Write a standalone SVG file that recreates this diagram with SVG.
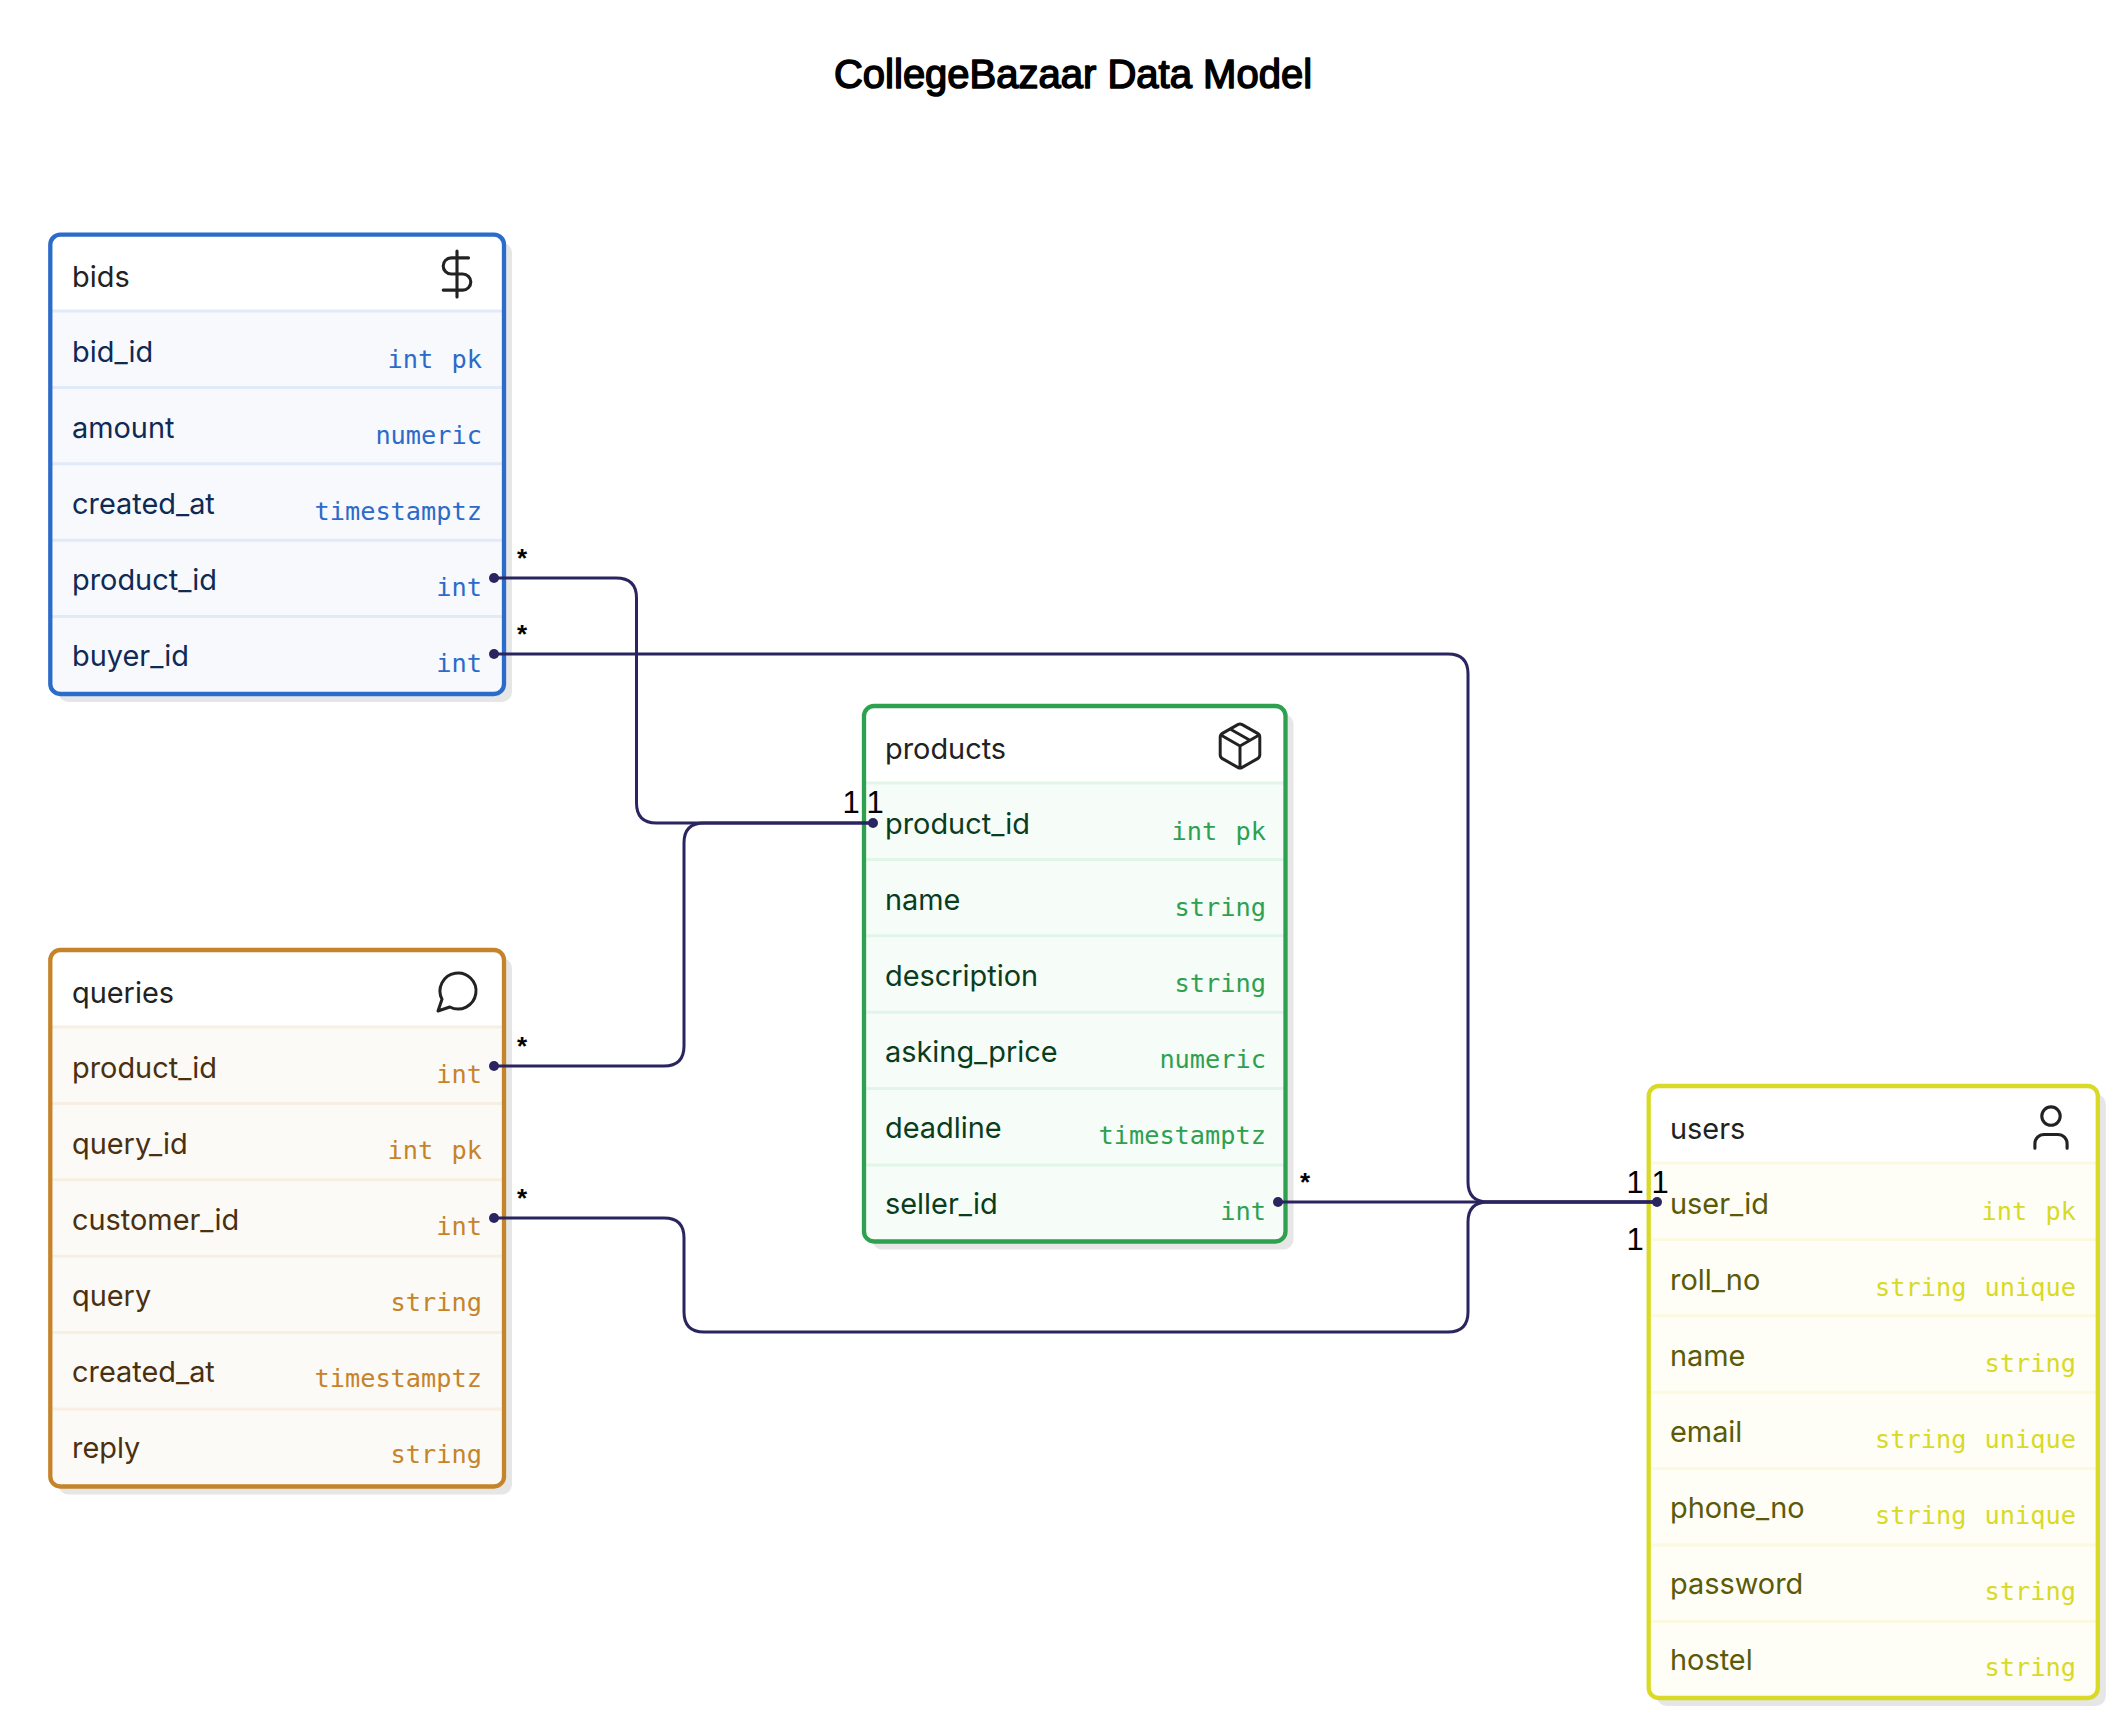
<svg xmlns="http://www.w3.org/2000/svg" width="2118" height="1718" viewBox="0 0 2118 1718">
<style>
text{font-family:"Liberation Sans",sans-serif}
.name{font-family:Inter,"Liberation Sans",sans-serif;font-size:28.9px}
.type{font-family:"DejaVu Sans Mono",monospace;font-size:25.3px;text-anchor:end;word-spacing:3px}
.box{stroke-width:4.3;fill:none}
.sh{fill:#e6e6e6}
.sep{stroke-width:3}
.ic{fill:none;stroke:#222;stroke-width:1.35;stroke-linecap:round;stroke-linejoin:round}
.c{fill:none;stroke:#2a2560;stroke-width:3}
.d{fill:#2a2560}
.one{font-size:31px;fill:#000;text-anchor:middle}
.st{font-size:26px;font-weight:700;fill:#000;text-anchor:middle}
.bids .box{stroke:#2b6bc9}.bids .bg{fill:#f8f9fd}.bids .sep{stroke:#e1eaf8}.bids .name{fill:#0e2a55}.bids .type{fill:#2b6bc9}
.products .box{stroke:#2da150}.products .bg{fill:#f6fcf8}.products .sep{stroke:#e2f5e9}.products .name{fill:#0a3d1e}.products .type{fill:#2da150}
.queries .box{stroke:#c6842a}.queries .bg{fill:#fcfaf6}.queries .sep{stroke:#f8efe2}.queries .name{fill:#4a3010}.queries .type{fill:#c6842a}
.users .box{stroke:#d8da26}.users .bg{fill:#fefef6}.users .sep{stroke:#fafae0}.users .name{fill:#5a5a08}.users .type{fill:#d8da26}
.name.head{fill:#222}
</style>
<text x="1073" y="88" font-size="40" text-anchor="middle" fill="#000" stroke="#000" stroke-width="1.5" stroke-linejoin="round">CollegeBazaar Data Model</text>

<g id="bids" class="bids">
<rect class="sh" x="58.300" y="242.700" width="453.700" height="459.300" rx="10"/>
<rect x="50.300" y="234.700" width="453.700" height="459.300" rx="10" fill="#fff"/>
<path class="bg" d="M50.300 311H504V684a10 10 0 0 1-10 10H60.300a10 10 0 0 1-10-10Z"/>
<path class="sep" d="M52 311H502M52 387.400H502M52 463.800H502M52 540.200H502M52 616.600H502"/>
<rect class="box" x="50.300" y="234.700" width="453.700" height="459.300" rx="10"/>
<text class="name head" x="72" y="287">bids</text>
<g class="ic" transform="translate(429.400,246.400) scale(2.300)"><path d="M12 2V22M17 5H9.500a3.500 3.500 0 0 0 0 7h5a3.500 3.500 0 0 1 0 7H6"/></g>
<text class="name" x="72" y="362">bid_id</text><text class="type" x="482" y="368">int pk</text>
<text class="name" x="72" y="438">amount</text><text class="type" x="482" y="444">numeric</text>
<text class="name" x="72" y="514">created_at</text><text class="type" x="482" y="520">timestamptz</text>
<text class="name" x="72" y="590">product_id</text><text class="type" x="482" y="596">int</text>
<text class="name" x="72" y="666">buyer_id</text><text class="type" x="482" y="672">int</text>
</g>

<g id="products" class="products">
<rect class="sh" x="872" y="714" width="421.500" height="535.500" rx="10"/>
<rect x="864" y="706" width="421.500" height="535.500" rx="10" fill="#fff"/>
<path class="bg" d="M864 783H1285.500V1231.500a10 10 0 0 1-10 10H874a10 10 0 0 1-10-10Z"/>
<path class="sep" d="M866 783H1284M866 859.400H1284M866 935.800H1284M866 1012.200H1284M866 1088.600H1284M866 1165H1284"/>
<rect class="box" x="864" y="706" width="421.500" height="535.500" rx="10"/>
<text class="name head" x="885" y="759">products</text>
<g class="ic" transform="translate(1213.600,719.600) scale(2.200)"><path d="M11 21.730a2 2 0 0 0 2 0l7-4a2 2 0 0 0 1-1.730V8a2 2 0 0 0-1-1.730l-7-4a2 2 0 0 0-2 0l-7 4A2 2 0 0 0 3 8v8a2 2 0 0 0 1 1.730zM12 22V12M3.300 7l8.700 5 8.700-5M7.500 4.270l9 5.150"/></g>
<text class="name" x="885" y="834">product_id</text><text class="type" x="1266" y="839.500">int pk</text>
<text class="name" x="885" y="910">name</text><text class="type" x="1266" y="915.500">string</text>
<text class="name" x="885" y="986">description</text><text class="type" x="1266" y="991.500">string</text>
<text class="name" x="885" y="1062">asking_price</text><text class="type" x="1266" y="1067.500">numeric</text>
<text class="name" x="885" y="1138">deadline</text><text class="type" x="1266" y="1143.500">timestamptz</text>
<text class="name" x="885" y="1214">seller_id</text><text class="type" x="1266" y="1219.500">int</text>
</g>

<g id="queries" class="queries">
<rect class="sh" x="58.300" y="958" width="453.700" height="536.500" rx="10"/>
<rect x="50.300" y="950" width="453.700" height="536.500" rx="10" fill="#fff"/>
<path class="bg" d="M50.300 1027H504V1476.500a10 10 0 0 1-10 10H60.300a10 10 0 0 1-10-10Z"/>
<path class="sep" d="M52 1027H502M52 1103.400H502M52 1179.800H502M52 1256.200H502M52 1332.600H502M52 1409H502"/>
<rect class="box" x="50.300" y="950" width="453.700" height="536.500" rx="10"/>
<text class="name head" x="72" y="1003">queries</text>
<g class="ic" transform="translate(434,967) scale(2)"><path d="M7.900 20A9 9 0 1 0 4 16.100L2 22Z" stroke-width="1.500"/></g>
<text class="name" x="72" y="1078">product_id</text><text class="type" x="482" y="1083">int</text>
<text class="name" x="72" y="1154">query_id</text><text class="type" x="482" y="1159">int pk</text>
<text class="name" x="72" y="1230">customer_id</text><text class="type" x="482" y="1235">int</text>
<text class="name" x="72" y="1306">query</text><text class="type" x="482" y="1311">string</text>
<text class="name" x="72" y="1382">created_at</text><text class="type" x="482" y="1387">timestamptz</text>
<text class="name" x="72" y="1457.500">reply</text><text class="type" x="482" y="1463">string</text>
</g>

<g id="users" class="users">
<rect class="sh" x="1656.700" y="1094" width="449.100" height="612" rx="10"/>
<rect x="1648.700" y="1086" width="449.100" height="612" rx="10" fill="#fff"/>
<path class="bg" d="M1648.700 1163H2097.800V1688a10 10 0 0 1-10 10H1658.700a10 10 0 0 1-10-10Z"/>
<path class="sep" d="M1650 1163H2096M1650 1239.400H2096M1650 1315.800H2096M1650 1392.200H2096M1650 1468.600H2096M1650 1545H2096M1650 1621.400H2096"/>
<rect class="box" x="1648.700" y="1086" width="449.100" height="612" rx="10"/>
<text class="name head" x="1670" y="1139">users</text>
<g class="ic" transform="translate(2023.400,1100) scale(2.300)"><path d="M19 21v-2a4 4 0 0 0-4-4H9a4 4 0 0 0-4 4v2"/><circle cx="12" cy="7" r="4"/></g>
<text class="name" x="1670" y="1214">user_id</text><text class="type" x="2076" y="1219.500">int pk</text>
<text class="name" x="1670" y="1290">roll_no</text><text class="type" x="2076" y="1295.500">string unique</text>
<text class="name" x="1670" y="1366">name</text><text class="type" x="2076" y="1371.500">string</text>
<text class="name" x="1670" y="1442">email</text><text class="type" x="2076" y="1447.500">string unique</text>
<text class="name" x="1670" y="1518">phone_no</text><text class="type" x="2076" y="1523.500">string unique</text>
<text class="name" x="1670" y="1594">password</text><text class="type" x="2076" y="1599.500">string</text>
<text class="name" x="1670" y="1669.500">hostel</text><text class="type" x="2076" y="1675.500">string</text>
</g>

<g id="connectors">
<path class="c" d="M494 578H616Q636.500 578 636.500 598V803Q636.500 823 656.500 823H873"/>
<path class="c" d="M494 654H1448Q1468 654 1468 674V1182Q1468 1202 1488 1202H1657"/>
<path class="c" d="M494 1066H664Q684 1066 684 1046V843Q684 823 704 823H873"/>
<path class="c" d="M494 1218H664Q684 1218 684 1238V1312Q684 1332 704 1332H1448Q1468 1332 1468 1312V1222Q1468 1202 1488 1202H1657"/>
<path class="c" d="M1278 1202H1657"/>
<circle class="d" cx="494" cy="578" r="5"/><circle class="d" cx="494" cy="654" r="5"/>
<circle class="d" cx="494" cy="1066" r="5"/><circle class="d" cx="494" cy="1218" r="5"/>
<circle class="d" cx="873" cy="823" r="5"/><circle class="d" cx="1278" cy="1202" r="5"/><circle class="d" cx="1657" cy="1202" r="5"/>
<text class="st" x="522" y="567">*</text><text class="st" x="522" y="643">*</text>
<text class="st" x="522" y="1055">*</text><text class="st" x="522" y="1207">*</text><text class="st" x="1305" y="1191">*</text>
<text class="one" x="851" y="813">1</text><text class="one" x="875" y="813">1</text>
<text class="one" x="1635" y="1193">1</text><text class="one" x="1660" y="1193">1</text><text class="one" x="1635" y="1250">1</text>
</g>
</svg>
